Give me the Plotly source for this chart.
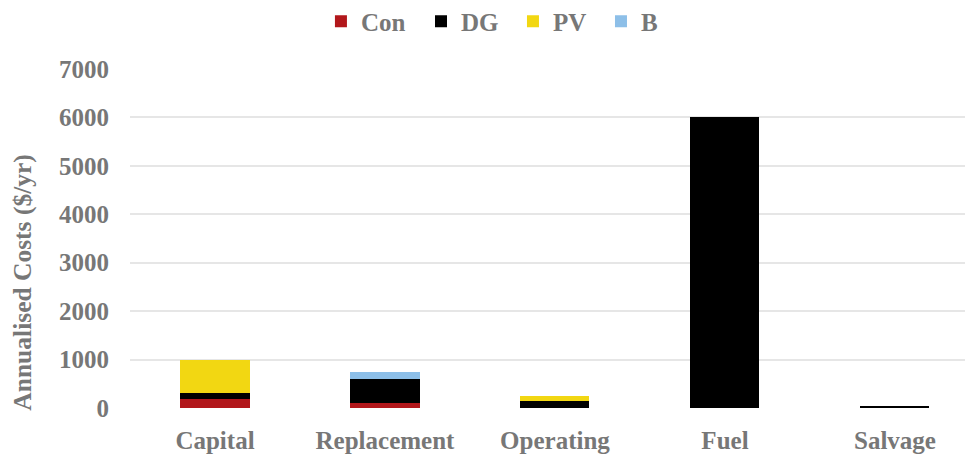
import plotly.graph_objects as go

categories = ["Capital", "Replacement", "Operating", "Fuel", "Salvage"]
con = [195, 100, 0, 0, 0]
dg = [105, 505, 145, 6000, 40]
pv = [700, 0, 110, 0, 0]
bat = [0, 140, 0, 0, 0]

series_names = ["Con", "DG", "PV", "B"]
series_values = [con, dg, pv, bat]
series_colors = ["#B2171B", "#000000", "#F2D712", "#8DBFE8"]
legend_ids = ["legend", "legend2", "legend3", "legend4"]
legend_x = [0.2265, 0.3452, 0.4543, 0.5587]

TXT = "#777777"
FONT = "Liberation Serif"
lfont = dict(family=FONT, size=25, color=TXT, weight="bold")

fig = go.Figure()
for name, vals, col, lg in zip(series_names, series_values, series_colors, legend_ids):
    fig.add_trace(go.Bar(x=categories, y=vals, name=name, legend=lg, showlegend=True,
                         marker=dict(color=col, line=dict(width=0))))

legends = {}
for lg, lx in zip(legend_ids, legend_x):
    legends[lg] = dict(orientation="h", x=lx, xanchor="left",
                       yref="container", y=0.9697, yanchor="middle",
                       font=lfont, itemwidth=30, bgcolor="rgba(0,0,0,0)")

fig.update_layout(
    width=965, height=446,
    showlegend=True,
    barmode="stack", bargap=0.594,
    paper_bgcolor="white", plot_bgcolor="white",
    margin=dict(l=122, r=0, t=61, b=38),
    font=dict(family=FONT, size=25, color=TXT, weight="bold"),
    xaxis=dict(range=[-0.5, 4.459], showgrid=False, zeroline=False, showline=False,
               ticks="", tickfont=dict(family=FONT, size=25, color=TXT, weight="bold"),
               ticklabelstandoff=15),
    yaxis=dict(range=[0, 7000], dtick=1000, tickformat="d", showgrid=True,
               gridcolor="#E6E6E6", gridwidth=1.5, zeroline=False, showline=False,
               ticks="", tickfont=dict(family=FONT, size=25, color=TXT, weight="bold"),
               ticklabelstandoff=20),
    annotations=[dict(text="Annualised Costs ($/yr)", xref="paper", yref="paper",
                      x=-0.128, y=0.37, xanchor="center", yanchor="middle",
                      textangle=-90, showarrow=False,
                      font=dict(family=FONT, size=25.5, color=TXT, weight="bold"))],
    **legends,
)

fig.write_html("out.html")
